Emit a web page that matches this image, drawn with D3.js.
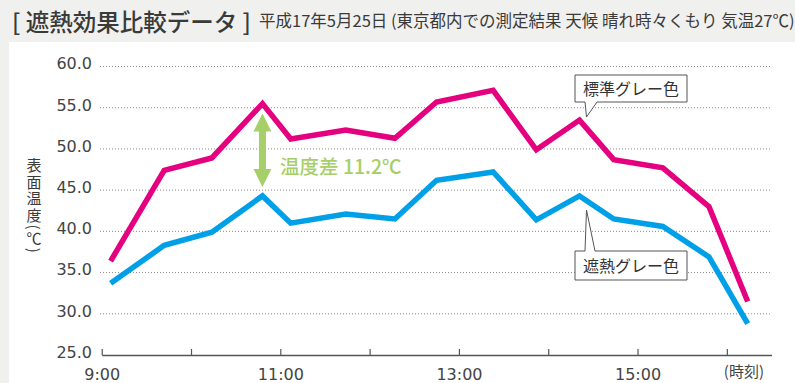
<!DOCTYPE html>
<html>
<head>
<meta charset="utf-8">
<script src="https://cdn.jsdelivr.net/npm/d3@7"></script>
<style>
  html, body { margin: 0; padding: 0; background: #f0f0ee; }
  svg { display: block; }
  .ytitle {
    writing-mode: vertical-rl;
    text-orientation: mixed;
    font-family: 'Noto Sans CJK JP', sans-serif;
    font-size: 15px;
    letter-spacing: 1.6px;
    line-height: 24px;
    color: #3a3a3a;
    margin: 0;
  }
  .ytitle .u { text-orientation: upright; }
</style>
</head>
<body>
<svg id="chart" width="795" height="383"></svg>
<script>
// Measurement times (surface temperature readings)
const times = ["9:06", "9:42", "10:14", "10:48", "11:07", "11:44", "12:17", "12:45",
               "13:23", "13:52", "14:21", "14:44", "15:17", "15:48", "16:14"];
// 標準グレー色 (standard grey)
const standardGrey = [36.4, 47.4, 48.9, 55.5, 51.2, 52.3, 51.3, 55.7, 57.1, 49.9, 53.5, 48.7, 47.7, 43.0, 31.5];
// 遮熱グレー色 (heat-shield grey)
const heatShieldGrey = [33.7, 38.3, 39.9, 44.3, 41.0, 42.1, 41.5, 46.2, 47.2, 41.4, 44.3, 41.5, 40.6, 36.9, 28.8];
const seriesNames = ["標準グレー色", "遮熱グレー色"];
const yTicks = [25, 30, 35, 40, 45, 50, 55, 60];
const xTickTimes = ["9:00", "10:00", "11:00", "12:00", "13:00", "14:00", "15:00", "16:00"];
const xLabelled = ["9:00", "11:00", "13:00", "15:00"];
const diffAt = "10:48";

const parse = d3.timeParse("%H:%M");
const svg = d3.select("#chart");
const jp = "'Noto Sans CJK JP', sans-serif";
const num = "'DejaVu Sans', sans-serif";

// white panel
svg.append("rect").attr("x", 9).attr("y", 42).attr("width", 795).attr("height", 400).attr("fill", "#fff");

// heading
svg.append("text").attr("x", 12).attr("y", 31)
  .attr("font-family", jp).attr("font-size", 23.5).attr("font-weight", 500).attr("fill", "#3a3a3a")
  .text("[ 遮熱効果比較データ ]");
svg.append("text").attr("x", 259).attr("y", 27)
  .attr("font-family", jp).attr("font-size", 16.5).attr("fill", "#3a3a3a")
  .text("平成17年5月25日 (東京都内での測定結果 天候 晴れ時々くもり 気温27℃)");

const x = d3.scaleTime().domain([parse("9:00"), parse("16:30")]).range([101.7, 771.5]);
const y = d3.scaleLinear().domain([25, 60]).range([355, 66.5]);

// dotted grid lines + y labels
const yAxis = d3.axisLeft(y).tickValues(yTicks).tickFormat(d3.format(".1f"))
  .tickSize(0).tickPadding(0);
const gy = svg.append("g").attr("transform", "translate(92,0)").call(yAxis);
gy.select(".domain").remove();
gy.selectAll("text").attr("font-family", num).attr("font-size", 16).attr("fill", "#444")
  .attr("dy", "0.15em");

svg.append("g").selectAll("line").data(yTicks.filter(d => d > 25)).join("line")
  .attr("x1", 100).attr("x2", 771)
  .attr("y1", d => y(d)).attr("y2", d => y(d))
  .attr("stroke", "#8a8a8a").attr("stroke-width", 1).attr("stroke-dasharray", "1,2");

// x axis with inward ticks
const xAxis = d3.axisBottom(x).tickValues(xTickTimes.map(parse))
  .tickSizeInner(-6).tickSizeOuter(0).tickPadding(14)
  .tickFormat(d => { const s = d3.timeFormat("%-H:%M")(d); return xLabelled.includes(s) ? s : ""; });
const gx = svg.append("g").attr("transform", `translate(0,${y(25)})`).call(xAxis);
gx.select(".domain").attr("stroke", "#555").attr("stroke-width", 1.3);
gx.selectAll(".tick line").attr("stroke", "#555").attr("stroke-width", 1.2);
gx.selectAll("text").attr("font-family", num).attr("font-size", 16).attr("fill", "#444");
svg.append("text").attr("x", x(parse("16:00")) - 3).attr("y", 377)
  .attr("font-family", jp).attr("font-size", 15).attr("fill", "#444").text("(時刻)");

// y axis title, set in vertical writing
const yt = svg.append("foreignObject").attr("x", 21.5).attr("y", 158).attr("width", 24).attr("height", 110)
  .append("xhtml:div").attr("class", "ytitle");
yt.append("xhtml:span").text("表面温度(");
yt.append("xhtml:span").attr("class", "u").text("℃");
yt.append("xhtml:span").text(")");

// series lines
const line = d3.line().x(d => x(d.t)).y(d => y(d.v));
const series = [
  { vals: standardGrey, color: "#e4007f" },
  { vals: heatShieldGrey, color: "#00a0e9" }
];
series.forEach(s => {
  svg.append("path")
    .datum(times.map((t, i) => ({ t: parse(t), v: s.vals[i] })))
    .attr("d", line).attr("fill", "none").attr("stroke", s.color)
    .attr("stroke-width", 5.5).attr("stroke-linejoin", "miter").attr("stroke-miterlimit", 10);
});

// difference arrow
const di = times.indexOf(diffAt);
const ax = x(parse(diffAt));
const yTop = y(standardGrey[di]) + 10, yBot = y(heatShieldGrey[di]) - 9;
const green = "#a6cf69";
svg.append("line").attr("x1", ax).attr("x2", ax).attr("y1", yTop + 14).attr("y2", yBot - 14)
  .attr("stroke", green).attr("stroke-width", 7);
svg.append("path").attr("fill", green)
  .attr("d", `M${ax},${yTop} L${ax + 9},${yTop + 18} L${ax - 9},${yTop + 18} Z`);
svg.append("path").attr("fill", green)
  .attr("d", `M${ax},${yBot} L${ax + 9},${yBot - 18} L${ax - 9},${yBot - 18} Z`);
const diff = (standardGrey[di] - heatShieldGrey[di]).toFixed(1);
svg.append("text").attr("x", 280).attr("y", 174)
  .attr("font-family", jp).attr("font-size", 19.5).attr("font-weight", 500).attr("fill", green)
  .text(`温度差 ${diff}℃`);

// callouts
function callout(label, bx, by, bw, bh, tip, up) {
  const g = svg.append("g");
  let d;
  if (!up) {
    d = `M${bx},${by} H${bx + bw} V${by + bh} H${bx + 22} L${tip[0]},${tip[1]} L${bx + 10},${by + bh} H${bx} Z`;
  } else {
    d = `M${bx},${by} H${bx + 10} L${tip[0]},${tip[1]} L${bx + 20},${by} H${bx + bw} V${by + bh} H${bx} Z`;
  }
  g.append("path").attr("d", d).attr("fill", "#fff").attr("stroke", "#555").attr("stroke-width", 1);
  g.append("text").attr("x", bx + bw / 2).attr("y", by + bh / 2 + 6)
    .attr("text-anchor", "middle").attr("font-family", jp).attr("font-size", 16).attr("fill", "#333")
    .text(label);
}
callout(seriesNames[0], 575, 75, 112, 27, [586.5, 117], false);
callout(seriesNames[1], 575, 251, 112, 29, [586.5, 210], true);
</script>
</body>
</html>
